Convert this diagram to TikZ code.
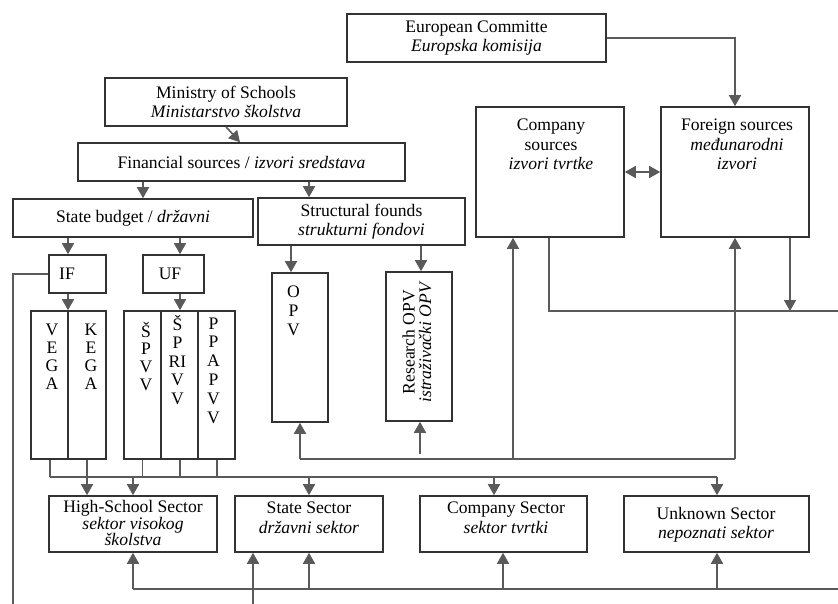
\documentclass[tikz,border=0pt]{standalone}
\usepackage{fontspec}
\setmainfont{Liberation Serif}
\usetikzlibrary{arrows.meta}
\definecolor{boxc}{HTML}{333333}
\definecolor{linec}{HTML}{5A5A5A}
\newcommand{\colstack}[2]{\vtop{\baselineskip=#1pt\lineskiplimit=-100pt\halign{\hfil##\hfil\cr#2\crcr}}}
\begin{document}
\begin{tikzpicture}[x=1pt,y=-1pt,
  font=\fontsize{17.6}{19.5}\selectfont,
  box/.style={draw=boxc, line width=1.6pt, inner sep=0pt, align=center},
  txt/.style={inner sep=0pt, align=center},
  ln/.style={draw=linec, line width=1.6pt},
  arr/.style={ln, -{Triangle[width=12pt,length=11pt]}},
  darr/.style={ln, {Triangle[width=12pt,length=11pt]}-{Triangle[width=12pt,length=11pt]}}]
\useasboundingbox (0,0) rectangle (838,604);

% top boxes
\node[box, minimum width=259, minimum height=48] (ec) at (476.5,38) {European Committe\\\textit{Europska komisija}};
\node[box, minimum width=242, minimum height=48] (min) at (226,102) {Ministry of Schools\\\textit{Ministarstvo školstva}};
\node[box, minimum width=327, minimum height=38] (fin) at (241.5,162) {Financial sources / \textit{izvori sredstava}};
\node[box, minimum width=240, minimum height=38] (sb) at (133,218) {State budget / \textit{državni}};
\node[box, minimum width=207, minimum height=47] (sf) at (361.5,221.5) {Structural founds\\\textit{strukturni fondovi}};
\node[box, minimum width=57, minimum height=38] (if) at (77.5,274) {};
\node[txt] (iftxt) at (67,274) {IF};
\node[box, minimum width=61, minimum height=38] (uf) at (173.5,274) {};
\node[txt] (uftxt) at (170,274) {UF};

% columns
\node[box, minimum width=37, minimum height=148] (vega) at (49.5,385) {};
\node[box, minimum width=38, minimum height=148] (kega) at (87,385) {};
\node[box, minimum width=37, minimum height=148] (spvv) at (142.5,385) {};
\node[box, minimum width=37, minimum height=148] (sprivv) at (179.5,385) {};
\node[box, minimum width=37, minimum height=148] (ppapvv) at (216.5,385) {};
\node[txt, anchor=base] (vegat) at (52,335) {\colstack{18.3}{V\cr E\cr G\cr A}};
\node[txt, anchor=base] (kegat) at (91,335) {\colstack{18.3}{K\cr E\cr G\cr A}};
\node[txt, anchor=base] (spvvt) at (146,337) {\colstack{17.7}{Š\cr P\cr V\cr V}};
\node[txt, anchor=base] (sprivvt) at (177.5,330) {\colstack{18.5}{Š\cr P\cr RI\cr V\cr V}};
\node[txt, anchor=base] (ppapvvt) at (213.5,329) {\colstack{18.8}{P\cr P\cr A\cr P\cr V\cr V}};

% OPV boxes
\node[box, minimum width=56, minimum height=149] (opv) at (300,347.5) {};
\node[txt, anchor=base] (opvt) at (293.5,297) {\colstack{19.5}{O\cr P\cr V}};
\node[box, minimum width=66, minimum height=149] (ropv) at (419,346.5) {};
\node[txt, rotate=90, font=\fontsize{17.6}{16.5}\selectfont] (ropvt) at (417,342) {Research OPV\\\textit{istraživački OPV}};

% sources
\node[box, minimum width=148, minimum height=130] (cs) at (550,172) {};
\node[txt, anchor=north] (cst) at (551,119) {Company\\sources\\\textit{izvori tvrtke}};
\node[box, minimum width=148, minimum height=130] (fs) at (735,172) {};
\node[txt, anchor=north] (fst) at (737,119) {Foreign sources\\\textit{međunarodni}\\\textit{izvori}};

% sectors
\node[box, minimum width=168, minimum height=56] (hs) at (133,524) {};
\node[txt, font=\fontsize{17.6}{16}\selectfont] (hst) at (133,523) {High-School Sector\\\textit{sektor visokog}\\\textit{školstva}};
\node[box, minimum width=148, minimum height=56] (ss) at (309,524) {};
\node[txt] (sst) at (309,518) {State Sector\\\textit{državni sektor}};
\node[box, minimum width=167, minimum height=56] (cos) at (503.5,524) {};
\node[txt] (cost) at (506,518) {Company Sector\\\textit{sektor tvrtki}};
\node[box, minimum width=185, minimum height=56] (us) at (716.5,524) {};
\node[txt] (ust) at (716,525) {Unknown Sector\\\textit{nepoznati sektor}};

% free-end coordinates
\coordinate (ifend) at (13,604);
\coordinate (r1) at (838,311);
\coordinate (j1) at (790,311);
\coordinate (lb) at (300,459);
\coordinate (lr) at (735,459);
\coordinate (lc) at (513,459);
\coordinate (rs) at (420,454);
\coordinate (bl) at (50,477);
\coordinate (br) at (717,477);
\coordinate (b1) at (133,589);
\coordinate (b2) at (838,589);
\coordinate (bs) at (253,604);

% connectors top
\draw[arr] (ec.east) -| (fs.north);
\draw[arr] (min.south) -- (240,0 |- fin.north);
\draw[arr] (143,0 |- fin.south) -- (143,0 |- sb.north);
\draw[arr] (309,0 |- fin.south) -- (309,0 |- sf.north);
\draw[arr] (68,0 |- sb.south) -- (68,0 |- if.north);
\draw[arr] (180,0 |- sb.south) -- (180,0 |- uf.north);
\draw[arr] (68,0 |- if.south) -- (68,0 |- vega.north);
\draw[arr] (180,0 |- uf.south) -- (180,0 |- sprivv.north);
\draw[arr] (291,0 |- sf.south) -- (291,0 |- opv.north);
\draw[arr] (421,0 |- sf.south) -- (421,0 |- ropv.north);
\draw[ln] (if.west) -| (ifend);

% sources
\draw[darr] (cs.east) -- (fs.west);
\draw[ln] (549,0 |- cs.south) |- (r1);
\draw[arr] (790,0 |- fs.south) -- (j1);

% middle loop
\draw[ln] (lb) -- (lr);
\draw[arr] (lb) -- (300,0 |- opv.south);
\draw[arr] (lr) -- (735,0 |- fs.south);
\draw[arr] (lc) -- (513,0 |- cs.south);
\draw[arr] (rs) -- (420,0 |- ropv.south);

% bus
\draw[ln] (bl) -- (br);
\draw[arr] (br) -- (717,0 |- us.north);
\draw[ln] (50,0 |- vega.south) -- (bl);
\draw[arr] (87,0 |- kega.south) -- (87,0 |- hs.north);
\draw[ln] (142.5,0 |- spvv.south) -- (142.5,477);
\draw[ln] (180,0 |- sprivv.south) -- (180,477);
\draw[ln] (217,0 |- ppapvv.south) -- (217,477);
\draw[arr] (133,477) -- (133,0 |- hs.north);
\draw[arr] (309,477) -- (309,0 |- ss.north);
\draw[arr] (494,477) -- (494,0 |- cos.north);

% bottom line
\draw[ln] (b1) -- (b2);
\draw[arr] (b1) -- (133,0 |- hs.south);
\draw[arr] (309,589) -- (309,0 |- ss.south);
\draw[arr] (503,589) -- (503,0 |- cos.south);
\draw[arr] (717,589) -- (717,0 |- us.south);
\draw[arr] (bs) -- (253,0 |- ss.south);
\end{tikzpicture}
\end{document}
